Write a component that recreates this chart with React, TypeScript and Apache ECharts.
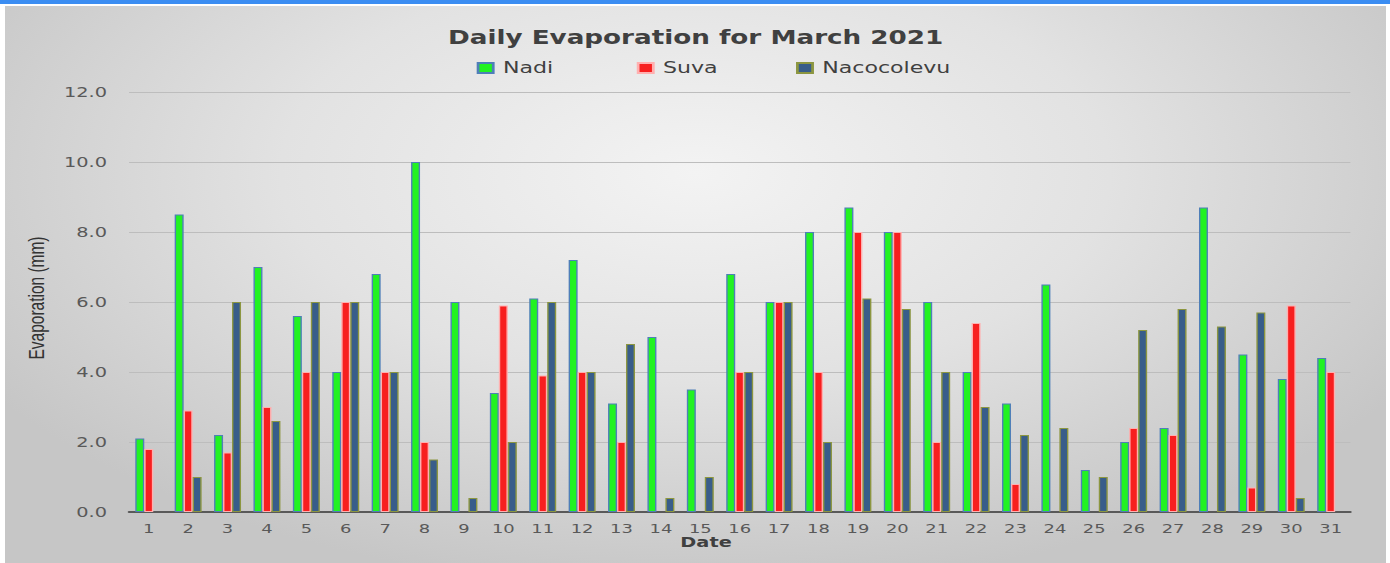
import React, { useEffect, useRef } from "react";
import * as echarts from "echarts";

const days = Array.from({ length: 31 }, (_, i) => String(i + 1));
const nadi = [2.1, 8.5, 2.2, 7.0, 5.6, 4.0, 6.8, 10.0, 6.0, 3.4, 6.1, 7.2, 3.1, 5.0, 3.5, 6.8, 6.0, 8.0, 8.7, 8.0, 6.0, 4.0, 3.1, 6.5, 1.2, 2.0, 2.4, 8.7, 4.5, 3.8, 4.4];
const suva = [1.8, 2.9, 1.7, 3.0, 4.0, 6.0, 4.0, 2.0, null, 5.9, 3.9, 4.0, 2.0, null, null, 4.0, 6.0, 4.0, 8.0, 8.0, 2.0, 5.4, 0.8, null, null, 2.4, 2.2, null, 0.7, 5.9, 4.0];
const naco = [null, 1.0, 6.0, 2.6, 6.0, 6.0, 4.0, 1.5, 0.4, 2.0, 6.0, 4.0, 4.8, 0.4, 1.0, 4.0, 6.0, 2.0, 6.1, 5.8, 4.0, 3.0, 2.2, 2.4, 1.0, 5.2, 5.8, 5.3, 5.7, 0.4, null];
const seriesNames = ["Nadi", "Suva", "Nacocolevu"];
const yTicks = { min: 0, max: 12, interval: 2 };

const S = 1.38;
const FRAME_W = 1381;
const FRAME_H = 557;
const W = FRAME_W / S;

export default function App() {
  const ref = useRef<HTMLDivElement>(null);
  useEffect(() => {
    document.body.style.margin = "0";
    const chart = echarts.init(ref.current!, null, { renderer: "svg" });
    const legendBase = {
      top: 54,
      padding: 0,
      itemWidth: 11,
      itemHeight: 10,
      icon: "rect",
      selectedMode: false,
      itemGap: 0,
      textStyle: { fontFamily: "DejaVu Sans", fontSize: 16, color: "#404040", padding: [0, 0, 0, 2] },
    };
    chart.setOption({
      animation: false,
      backgroundColor: "transparent",
      title: {
        text: "Daily Evaporation for March 2021",
        left: "center",
        top: 17,
        textStyle: { fontFamily: "DejaVu Sans", fontWeight: "bold", fontSize: 19, color: "#404040" },
      },
      legend: [
        { ...legendBase, left: 341.8, data: [seriesNames[0]] },
        { ...legendBase, left: 457.8, data: [seriesNames[1]] },
        { ...legendBase, left: 573.2, data: [seriesNames[2]] },
      ],
      grid: { left: 89.9, right: 26.1, top: 86, bottom: 51, containLabel: false },
      xAxis: {
        type: "category",
        data: days,
        axisLine: { lineStyle: { color: "#595959", width: 2 } },
        axisTick: { show: false },
        axisLabel: { fontFamily: "DejaVu Sans", fontSize: 13, color: "#595959", margin: 10, interval: 0 },
      },
      yAxis: {
        type: "value",
        min: yTicks.min,
        max: yTicks.max,
        interval: yTicks.interval,
        axisLine: { show: false },
        axisTick: { show: false },
        splitLine: { lineStyle: { color: "#bdbdbd", width: 1 } },
        axisLabel: {
          fontFamily: "DejaVu Sans",
          fontSize: 14,
          color: "#595959",
          margin: 16,
          formatter: (v: number) => v.toFixed(1),
        },
      },
      graphic: [
        {
          type: "text",
          x: 23.2,
          y: 292,
          rotation: Math.PI / 2,
          style: {
            text: "Evaporation (mm)",
            fontFamily: "Liberation Sans",
            fontSize: 15.5,
            fill: "#333333",
            align: "center",
            verticalAlign: "middle",
          },
        },
        {
          type: "text",
          x: 508,
          y: 536.5,
          style: {
            text: "Date",
            fontFamily: "DejaVu Sans",
            fontWeight: "bold",
            fontSize: 14,
            fill: "#404040",
            align: "center",
            verticalAlign: "middle",
          },
        },
      ],
      series: [
        {
          name: seriesNames[0],
          type: "bar",
          data: nadi,
          barWidth: "22.8%",
          barGap: "0%",
          itemStyle: { color: "#22f222", borderColor: "#4f7fb8", borderWidth: 1 },
        },
        {
          name: seriesNames[1],
          type: "bar",
          data: suva,
          barWidth: "22.8%",
          barGap: "0%",
          itemStyle: { color: "#f71f1f", borderColor: "#ffb0b0", borderWidth: 1 },
        },
        {
          name: seriesNames[2],
          type: "bar",
          data: naco,
          barWidth: "22.8%",
          barGap: "0%",
          itemStyle: { color: "#385d8a", borderColor: "#8c9640", borderWidth: 1 },
        },
      ],
    });
    return () => chart.dispose();
  }, []);

  return (
    <div style={{ position: "relative", width: 1390, height: 563, background: "#ffffff", overflow: "hidden" }}>
      <div style={{ position: "absolute", left: 0, top: 0, width: 1390, height: 4, background: "#3b8df2" }} />
      <div
        style={{
          position: "absolute",
          left: 5,
          top: 6,
          width: FRAME_W,
          height: FRAME_H,
          background: "radial-gradient(ellipse 60% 75% at 50% 30%, #f3f3f3 0%, #e2e2e2 50%, #c6c6c6 100%)",
        }}
      />
      <div
        ref={ref}
        style={{
          position: "absolute",
          left: 5,
          top: 6,
          width: W,
          height: FRAME_H,
          transform: `scaleX(${S})`,
          transformOrigin: "0 0",
        }}
      />
    </div>
  );
}
